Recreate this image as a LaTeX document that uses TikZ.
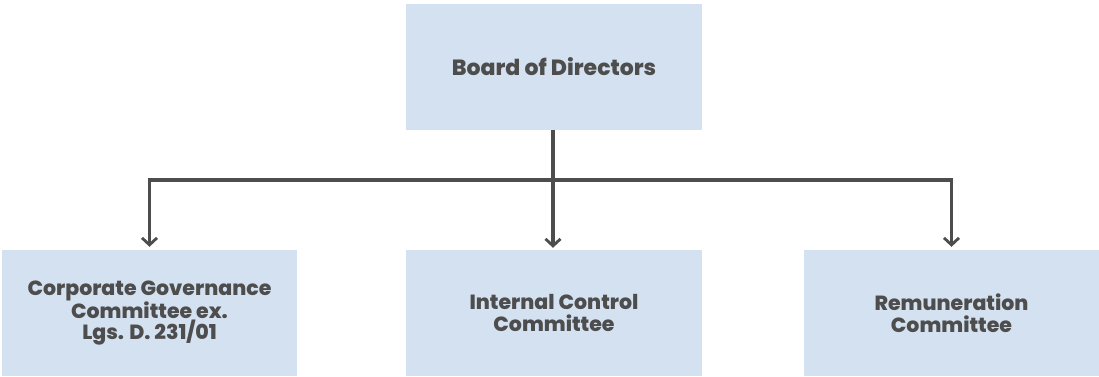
\documentclass[tikz,border=0pt]{standalone}
\usepackage{fontspec}
\setmainfont{Poppins}[BoldFont={* ExtraBold}]
\usetikzlibrary{arrows.meta}

\definecolor{boxblue}{HTML}{D4E1F0}
\definecolor{inkgrey}{HTML}{4D4D4D}

\begin{document}
\begin{tikzpicture}[x=1pt,y=1pt,
    >={Straight Barb[length=7pt,width=15pt,line width=2.8pt]},
    orgbox/.style={fill=boxblue,inner sep=0pt,text=inkgrey,align=center,
      minimum height=126pt,font=\bfseries\fontsize{20.5}{21.5}\selectfont},
    link/.style={draw=inkgrey,line width=3.2pt}]
  \useasboundingbox (0,0) rectangle (1099,376);
  \node[orgbox,minimum width=296pt,minimum height=125pt,
    font=\bfseries\fontsize{22}{24}\selectfont] (board) at (554,309) {Board of Directors};
  \node[orgbox,minimum width=295pt] (corpgov) at (149.5,63) {Corporate Governance\\Committee ex.\\Lgs. D. 231/01};
  \node[orgbox,minimum width=296pt] (intctrl) at (554,63) {Internal Control\\Committee};
  \node[orgbox,minimum width=295pt] (remun) at (951.5,63) {Remuneration\\Committee};
  \coordinate (split) at (553,196);
  \draw[link] (board.south -| split) -- (split);
  \draw[link,->,shorten >=2pt] (split) -- (split |- intctrl.north);
  \draw[link,->,shorten >=3pt,line join=miter] (split) -| (corpgov.north);
  \draw[link,->,shorten >=3pt,line join=miter] (split) -| (remun.north);
\end{tikzpicture}
\end{document}
